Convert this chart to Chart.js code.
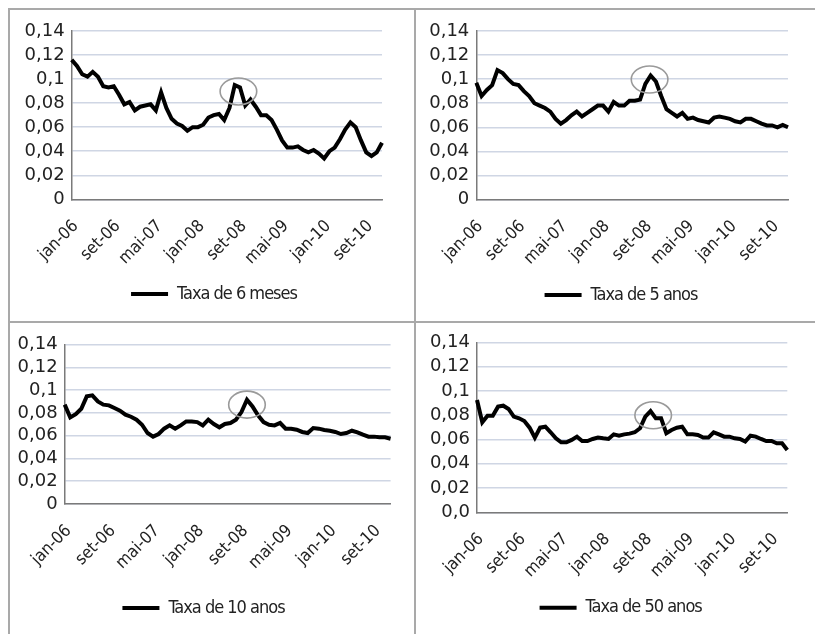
<!DOCTYPE html>
<html>
<head>
<meta charset="utf-8">
<script src="https://cdn.jsdelivr.net/npm/chart.js@4.4.1/dist/chart.umd.min.js"></script>
<style>
  body { margin: 0; background: #fff; }
  #wrap { position: relative; width: 815px; height: 634px; overflow: hidden; background: #fff; }
  canvas { position: absolute; }
  .rule { position: absolute; background: #a9a9a9; }
</style>
</head>
<body>
<div id="wrap">
  <div class="rule" style="left:8px;top:8px;width:807px;height:2px"></div>
  <div class="rule" style="left:8px;top:8px;width:2px;height:626px"></div>
  <div class="rule" style="left:414px;top:8px;width:2px;height:626px"></div>
  <div class="rule" style="left:8px;top:321px;width:807px;height:2px"></div>
  <canvas id="c1" width="404" height="311" style="left:10px;top:10px"></canvas>
  <canvas id="c2" width="399" height="311" style="left:416px;top:10px"></canvas>
  <canvas id="c3" width="404" height="311" style="left:10px;top:323px"></canvas>
  <canvas id="c4" width="399" height="311" style="left:416px;top:323px"></canvas>
</div>
<script>
// DATA
const months = ["jan", "fev", "mar", "abr", "mai", "jun", "jul", "ago", "set", "out", "nov", "dez"];
const years = ["06", "07", "08", "09", "10"];
const tickLabels = ["jan-06", "set-06", "mai-07", "jan-08", "set-08", "mai-09", "jan-10", "set-10"];
const yTicks = [0, 0.02, 0.04, 0.06, 0.08, 0.1, 0.12, 0.14];

const taxa6m = [0.116, 0.111, 0.104, 0.102, 0.106, 0.102, 0.094, 0.093, 0.094, 0.087,
  0.079, 0.081, 0.074, 0.077, 0.078, 0.079, 0.074, 0.089, 0.076, 0.067,
  0.063, 0.061, 0.057, 0.060, 0.060, 0.062, 0.068, 0.070, 0.071, 0.066,
  0.076, 0.095, 0.093, 0.078, 0.083, 0.077, 0.070, 0.070, 0.066, 0.058,
  0.049, 0.043, 0.043, 0.044, 0.041, 0.039, 0.041, 0.038, 0.034, 0.040,
  0.043, 0.050, 0.058, 0.064, 0.060, 0.049, 0.039, 0.036, 0.039, 0.047];

const taxa5a = [0.097, 0.086, 0.091, 0.095, 0.1075, 0.105, 0.100, 0.096, 0.095, 0.090,
  0.086, 0.080, 0.078, 0.076, 0.073, 0.067, 0.063, 0.066, 0.070, 0.073,
  0.069, 0.072, 0.075, 0.078, 0.078, 0.073, 0.081, 0.078, 0.078, 0.082,
  0.082, 0.083, 0.096, 0.103, 0.098, 0.086, 0.075, 0.072, 0.069, 0.072,
  0.067, 0.068, 0.066, 0.065, 0.064, 0.068, 0.069, 0.068, 0.067, 0.065,
  0.064, 0.067, 0.067, 0.065, 0.063, 0.0615, 0.0615, 0.060, 0.062, 0.060];

const taxa10a = [0.0873, 0.0761, 0.079, 0.0837, 0.0946, 0.0955, 0.0902, 0.0873, 0.0867, 0.0843,
  0.082, 0.0785, 0.0767, 0.0741, 0.0697, 0.0624, 0.0592, 0.0615, 0.0662, 0.0691,
  0.0662, 0.0691, 0.0726, 0.0726, 0.072, 0.0691, 0.0741, 0.0703, 0.0674, 0.0703,
  0.0712, 0.0741, 0.0808, 0.0917, 0.0858, 0.0779, 0.072, 0.0697, 0.0691, 0.0712,
  0.0662, 0.0662, 0.0653, 0.0633, 0.0624, 0.0668, 0.0662, 0.065, 0.0644, 0.0633,
  0.0615, 0.0624, 0.0644, 0.063, 0.0609, 0.0592, 0.0592, 0.0586, 0.0586, 0.0574];

const taxa50a = [0.0925, 0.0741, 0.0796, 0.0796, 0.087, 0.0878, 0.0851, 0.0788, 0.0774, 0.0752,
  0.0697, 0.0615, 0.0697, 0.0705, 0.0659, 0.0609, 0.0576, 0.0576, 0.0596, 0.0623,
  0.0587, 0.0587, 0.0604, 0.0615, 0.0609, 0.0604, 0.0642, 0.0631, 0.0642, 0.0648,
  0.0659, 0.0692, 0.0788, 0.0834, 0.0774, 0.0774, 0.0651, 0.0678, 0.0697, 0.0705,
  0.0642, 0.0642, 0.0637, 0.0615, 0.0615, 0.0659, 0.0642, 0.0623, 0.0623, 0.0609,
  0.0604, 0.0582, 0.0631, 0.0623, 0.0604, 0.0587, 0.0587, 0.0568, 0.0568, 0.0513];

const seriesNames = ["Taxa de 6 meses", "Taxa de 5 anos", "Taxa de 10 anos", "Taxa de 50 anos"];
const zeroLabels = ["0", "0", "0", "0,0"];

// circled peak around set-08: [month index, rate]
const peakIdx = [31.7, 32.8, 33.0, 33.5];
const peakVal = [0.0897, 0.0997, 0.0873, 0.0799];

const labels = [];
years.forEach(y => months.forEach(m => labels.push(m + "-" + y)));

// LAYOUT (per panel, in canvas pixels)
const layouts = [
  { yW: 61.7, top: 21, padR: 32, xH: 75.7, padB: 8, legendDx: 18 },
  { yW: 60.3, top: 21, padR: 27, xH: 76.5, padB: 7, legendDx: 19 },
  { yW: 54.7, top: 21.7, padR: 23, xH: 85, padB: 7, legendDx: 3 },
  { yW: 61, top: 19.3, padR: 27.7, xH: 76.4, padB: 7.3, legendDx: 19 }
];

Chart.defaults.font.family = "'DejaVu Sans', sans-serif";
Chart.defaults.color = "#222";

const peakEllipse = {
  id: "peakEllipse",
  afterDatasetsDraw(chart, args, opts) {
    const { ctx, scales } = chart;
    const cx = scales.x.getPixelForValue(opts.index);
    const cy = scales.y.getPixelForValue(opts.value);
    ctx.save();
    ctx.beginPath();
    ctx.ellipse(cx, cy, 18.3, 13.5, 0, 0, Math.PI * 2);
    ctx.strokeStyle = "#9a9a9a";
    ctx.lineWidth = 1.6;
    ctx.stroke();
    ctx.restore();
  }
};

// legend sits a bit right of the canvas centre and its text is squeezed
const legendTweak = {
  id: "legendTweak",
  beforeLayout(chart, args, opts) {
    const lg = chart.legend;
    if (!lg || lg._tweaked) return;
    lg._tweaked = true;
    const fit = lg.fit;
    const draw = lg.draw;
    lg.fit = function () {
      this.ctx.save();
      this.ctx.letterSpacing = opts.spacing;
      fit.call(this);
      this.ctx.restore();
    };
    lg.draw = function () {
      this.ctx.save();
      this.ctx.letterSpacing = opts.spacing;
      draw.call(this);
      this.ctx.restore();
    };
  },
  afterLayout(chart, args, opts) {
    const lg = chart.legend;
    if (!lg) return;
    lg.left += opts.dx;
    lg.right += opts.dx;
  }
};

function makePanel(id, name, values, zeroLabel, pIdx, pVal, lay) {
  return new Chart(document.getElementById(id), {
    type: "line",
    data: {
      labels: labels,
      datasets: [{
        label: name,
        data: values,
        borderColor: "#000",
        backgroundColor: "#000",
        borderWidth: 4,
        pointRadius: 0,
        pointStyle: "line",
        tension: 0
      }]
    },
    options: {
      responsive: false,
      animation: false,
      layout: { padding: { left: 0, top: lay.top, right: lay.padR, bottom: lay.padB } },
      scales: {
        x: {
          grid: { display: false },
          border: { color: "#7a7a7a", width: 1.5 },
          ticks: {
            autoSkip: false,
            minRotation: 45,
            maxRotation: 45,
            padding: 9,
            labelOffset: 4,
            font: { size: 17, family: "'DejaVu Sans Condensed', 'DejaVu Sans', sans-serif" },
            callback: function (v, i) {
              const l = labels[i];
              return tickLabels.includes(l) ? l : "";
            }
          },
          afterFit: s => { s.height = lay.xH; }
        },
        y: {
          min: 0,
          max: 0.14,
          afterBuildTicks: s => { s.ticks = yTicks.map(v => ({ value: v })); },
          grid: { color: "#cfd6e4", lineWidth: 1.5, drawTicks: false },
          border: { color: "#7a7a7a", width: 1.5 },
          ticks: {
            autoSkip: false,
            padding: 7,
            font: { size: 18 },
            callback: v => v === 0 ? zeroLabel : String(+v.toFixed(2)).replace(".", ",")
          },
          afterFit: s => { s.width = lay.yW; }
        }
      },
      plugins: {
        tooltip: { enabled: false },
        legend: {
          position: "bottom",
          labels: {
            usePointStyle: true,
            pointStyle: "line",
            pointStyleWidth: 37,
            padding: 10,
            color: "#222",
            font: { size: 18, family: "'DejaVu Sans Condensed', 'DejaVu Sans', sans-serif" }
          }
        },
        legendTweak: { dx: lay.legendDx, spacing: "-1px" },
        peakEllipse: { index: pIdx, value: pVal }
      }
    },
    plugins: [peakEllipse, legendTweak]
  });
}

makePanel("c1", seriesNames[0], taxa6m, zeroLabels[0], peakIdx[0], peakVal[0], layouts[0]);
makePanel("c2", seriesNames[1], taxa5a, zeroLabels[1], peakIdx[1], peakVal[1], layouts[1]);
makePanel("c3", seriesNames[2], taxa10a, zeroLabels[2], peakIdx[2], peakVal[2], layouts[2]);
makePanel("c4", seriesNames[3], taxa50a, zeroLabels[3], peakIdx[3], peakVal[3], layouts[3]);
</script>
</body>
</html>
